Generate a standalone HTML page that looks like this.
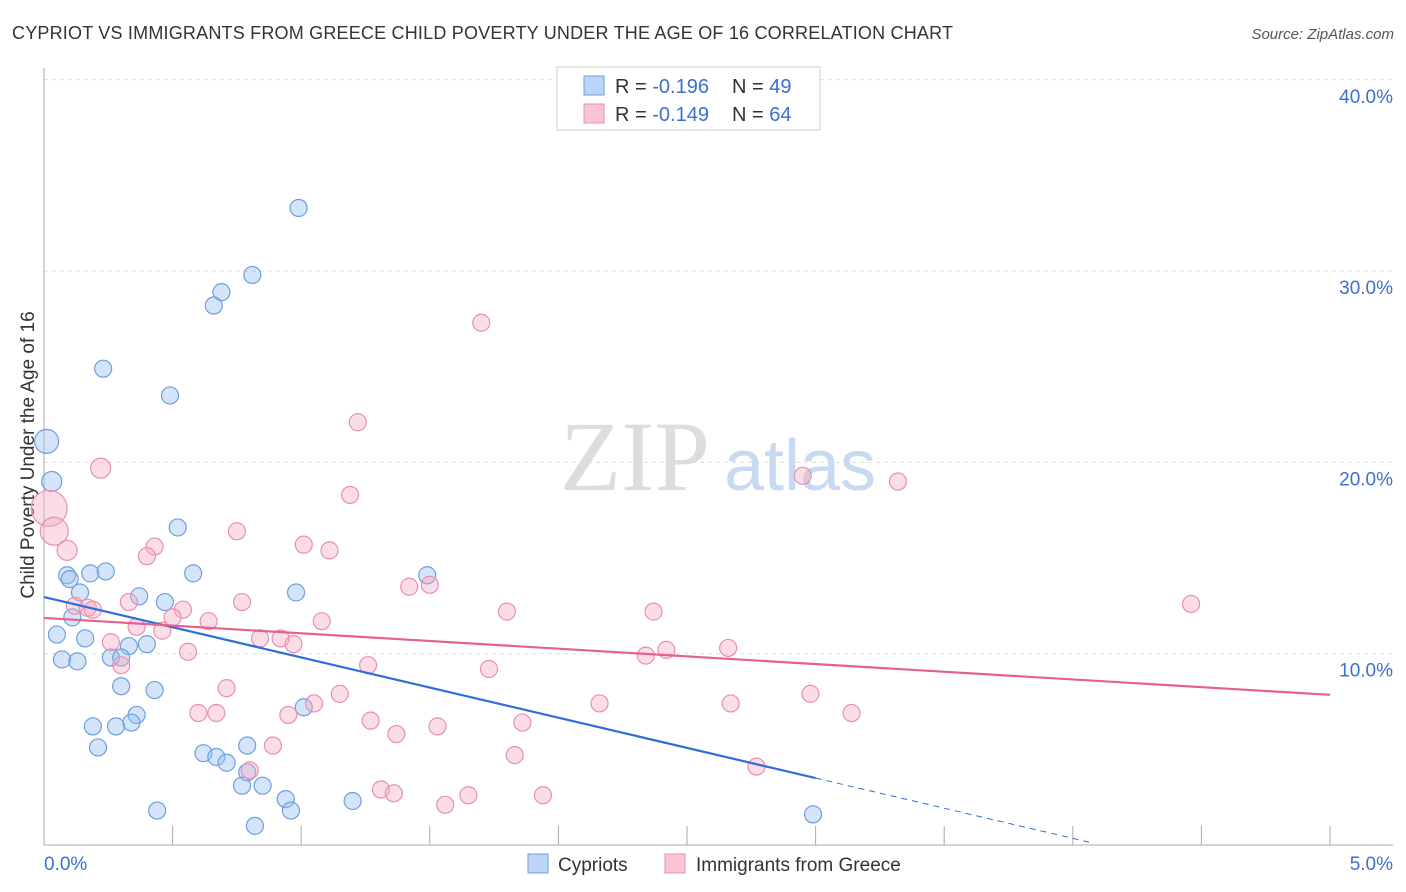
<!DOCTYPE html>
<html><head><meta charset="utf-8"><style>
body{margin:0;background:#fff;font-family:"Liberation Sans",sans-serif}
svg{display:block}
</style></head><body>
<svg id="chart" width="1406" height="892">
<text x="12" y="39" font-size="18" fill="#333" textLength="941">CYPRIOT VS IMMIGRANTS FROM GREECE CHILD POVERTY UNDER THE AGE OF 16 CORRELATION CHART</text>
<text x="1394" y="39" font-size="15" fill="#555" text-anchor="end" font-style="italic">Source: ZipAtlas.com</text>
<text x="34" y="455" font-size="19" fill="#333" text-anchor="middle" transform="rotate(-90 34 455)">Child Poverty Under the Age of 16</text>
<g><text x="635" y="490" font-size="100" fill="#ddd" text-anchor="middle" font-family="Liberation Serif,serif">ZIP</text><text x="800" y="490" font-size="72" fill="#c8daf2" text-anchor="middle">atlas</text></g>
<g id="grid"></g><g id="axes"></g><g id="pts"></g><g id="trend"></g>
<g>
<rect x="557" y="67" width="263" height="63" fill="#fff" stroke="#ccc"/>
<rect x="584" y="76" width="20" height="19" fill="#bcd4f5" stroke="#6d9fe0"/>
<rect x="584" y="104" width="20" height="19" fill="#f9c5d6" stroke="#e890b0"/>
<text x="615" y="93" font-size="20" fill="#333">R = <tspan fill="#3a70d0">-0.196</tspan></text>
<text x="732" y="93" font-size="20" fill="#333">N = <tspan fill="#3a70d0">49</tspan></text>
<text x="615" y="121" font-size="20" fill="#333">R = <tspan fill="#3a70d0">-0.149</tspan></text>
<text x="732" y="121" font-size="20" fill="#333">N = <tspan fill="#3a70d0">64</tspan></text>
</g>
<g>
<rect x="528" y="854" width="20" height="19" fill="#bcd4f5" stroke="#6d9fe0"/>
<text x="558" y="871" font-size="19" fill="#333">Cypriots</text>
<rect x="665" y="854" width="20" height="19" fill="#f9c5d6" stroke="#e890b0"/>
<text x="696" y="871" font-size="19" fill="#333">Immigrants from Greece</text>
</g>
</svg>
<script>
const yTicks=[10,20,30,40];
const yTickLabels=["10.0%","20.0%","30.0%","40.0%"];
const xTicks=[0,0.5,1,1.5,2,2.5,3,3.5,4,4.5,5];
const blueX=[0.99,0.81,0.69,0.66,0.23,0.49,0.01,0.03,0.52,0.09,0.10,0.18,0.24,0.58,0.98,1.49,0.14,0.37,0.47,0.11,0.05,0.16,0.33,0.40,0.07,0.13,0.26,0.30,0.30,0.43,1.01,0.36,0.19,0.28,0.34,0.21,0.62,0.67,0.71,0.79,0.79,0.77,0.85,0.44,0.94,0.96,1.20,0.82,2.99];
const blueY=[33.3,29.8,28.9,28.2,24.9,23.5,21.1,19.0,16.6,14.1,13.9,14.2,14.3,14.2,13.2,14.1,13.2,13.0,12.7,11.9,11.0,10.8,10.4,10.5,9.7,9.6,9.8,9.8,8.3,8.1,7.2,6.8,6.2,6.2,6.4,5.1,4.8,4.6,4.3,5.2,3.8,3.1,3.1,1.8,2.4,1.8,2.3,1.0,1.6];
const blueR=[8.5,8.5,8.5,8.5,8.5,8.5,12,10,8.5,8.5,8.5,8.5,8.5,8.5,8.5,8.5,8.5,8.5,8.5,8.5,8.5,8.5,8.5,8.5,8.5,8.5,8.5,8.5,8.5,8.5,8.5,8.5,8.5,8.5,8.5,8.5,8.5,8.5,8.5,8.5,8.5,8.5,8.5,8.5,8.5,8.5,8.5,8.5,8.5];
const pinkX=[1.70,1.22,0.22,2.95,3.32,0.02,0.04,0.09,1.19,0.75,1.01,1.11,0.43,0.40,1.42,1.50,0.12,0.17,0.19,0.33,0.54,0.77,1.80,2.37,4.46,0.50,0.64,1.08,0.36,0.46,0.26,0.84,0.92,0.97,0.56,2.42,2.34,2.66,0.30,1.26,1.73,0.71,1.15,2.98,1.05,0.60,0.67,0.95,2.16,2.67,3.14,1.27,1.53,1.86,1.37,0.89,1.83,2.77,0.80,1.31,1.36,1.65,1.56,1.94];
const pinkY=[27.3,22.1,19.7,19.3,19.0,17.6,16.4,15.4,18.3,16.4,15.7,15.4,15.6,15.1,13.5,13.6,12.5,12.4,12.3,12.7,12.3,12.7,12.2,12.2,12.6,11.9,11.7,11.7,11.4,11.2,10.6,10.8,10.8,10.5,10.1,10.2,9.9,10.3,9.4,9.4,9.2,8.2,7.9,7.9,7.4,6.9,6.9,6.8,7.4,7.4,6.9,6.5,6.2,6.4,5.8,5.2,4.7,4.1,3.9,2.9,2.7,2.6,2.1,2.6];
const pinkR=[8.5,8.5,10,8.5,8.5,18,14,10,8.5,8.5,8.5,8.5,8.5,8.5,8.5,8.5,8.5,8.5,8.5,8.5,8.5,8.5,8.5,8.5,8.5,8.5,8.5,8.5,8.5,8.5,8.5,8.5,8.5,8.5,8.5,8.5,8.5,8.5,8.5,8.5,8.5,8.5,8.5,8.5,8.5,8.5,8.5,8.5,8.5,8.5,8.5,8.5,8.5,8.5,8.5,8.5,8.5,8.5,8.5,8.5,8.5,8.5,8.5,8.5];
const blueTrend=[12.96,3.5];
const blueTrendEndX=[3.0,4.07];
const pinkTrend=[11.87,7.85];
const NS="http://www.w3.org/2000/svg";
const X=v=>44+v/5*1286, Y=v=>845-v*19.13;
function mk(tag,at,parent){const e=document.createElementNS(NS,tag);for(const k in at)e.setAttribute(k,at[k]);document.getElementById(parent).appendChild(e);return e;}
yTicks.forEach((t,i)=>{
 const l=mk('line',{x1:44,x2:1393,y1:Y(t),y2:Y(t),stroke:'#ddd','stroke-dasharray':'4,4'},'grid');
 
 
 const tx=mk('text',{x:1393,y:Y(t)+23,'font-size':19,fill:'#3a70d0','text-anchor':'end'},'grid');tx.textContent=yTickLabels[i];
 
 
});
mk('line',{x1:44,x2:44,y1:68,y2:845,stroke:'#aaa'},'axes');
mk('line',{x1:44,x2:1393,y1:845,y2:845,stroke:'#aaa'},'axes');
xTicks.forEach(t=>{const l=mk('line',{x1:X(t),x2:X(t),y1:826,y2:845,stroke:'#aaa'},'axes');
 
 });
let a=mk('text',{x:44,y:870,'font-size':19,fill:'#3a70d0'},'axes');a.textContent='0.0%';


a=mk('text',{x:1393,y:870,'font-size':19,fill:'#3a70d0','text-anchor':'end'},'axes');a.textContent='5.0%';


blueX.forEach((v,i)=>{const c=mk('circle',{cx:X(v),cy:Y(blueY[i]),r:blueR[i],fill:'rgba(150,190,240,0.4)',stroke:'#6d9fe0','stroke-width':1.2},'pts');
 
 });
pinkX.forEach((v,i)=>{const c=mk('circle',{cx:X(v),cy:Y(pinkY[i]),r:pinkR[i],fill:'rgba(245,170,195,0.4)',stroke:'#e890b0','stroke-width':1.2},'pts');
 
 });
const bs=(blueTrend[1]-blueTrend[0])/blueTrendEndX[0];
let t1=mk('line',{x1:X(0),y1:Y(blueTrend[0]),x2:X(blueTrendEndX[0]),y2:Y(blueTrend[1]),stroke:'#2d6fd6','stroke-width':2.2},'trend');


let t2=mk('line',{x1:X(blueTrendEndX[0]),y1:Y(blueTrend[1]),x2:X(blueTrendEndX[1]),y2:Y(blueTrend[0]+bs*blueTrendEndX[1]),stroke:'#2d6fd6','stroke-width':1,'stroke-dasharray':'6,5'},'trend');


let t3=mk('line',{x1:X(0),y1:Y(pinkTrend[0]),x2:X(5),y2:Y(pinkTrend[1]),stroke:'#e4608e','stroke-width':2.2},'trend');


</script>
</body></html>
